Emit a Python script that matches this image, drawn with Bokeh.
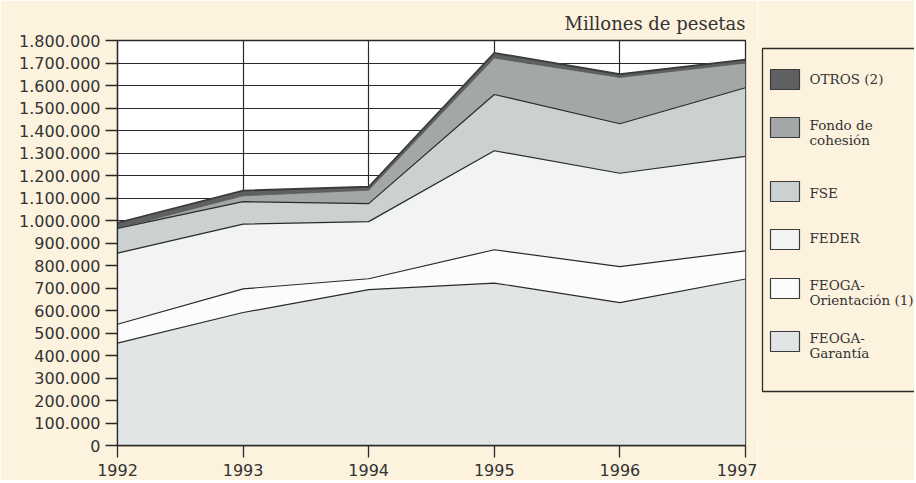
from bokeh.plotting import figure
from bokeh.layouts import row
from bokeh.models import Range1d, FixedTicker, ColumnDataSource
from bokeh.embed import file_html
from bokeh.resources import INLINE
from bokeh.core.properties import value

# ---------------- data ----------------
years = [1992, 1993, 1994, 1995, 1996, 1997]
feoga_garantia = [455000, 591000, 693000, 722000, 635000, 740000]
feoga_orientacion = [84000, 105000, 48000, 148000, 160000, 125000]
feder = [316000, 288000, 254000, 440000, 415000, 420000]
fse = [110000, 100000, 80000, 250000, 220000, 305000]
fondo_cohesion = [0, 26000, 60000, 162000, 206000, 110000]
otros = [25000, 23000, 15000, 23000, 14000, 15000]

series_keys = ["garantia", "orientacion", "feder", "fse", "fondo", "otros"]
series_labels = ["FEOGA-\nGarantía", "FEOGA-\nOrientación (1)", "FEDER", "FSE",
                 "Fondo de\ncohesión", "OTROS (2)"]
series_colors = ["#e1e5e6", "#fcfcfc", "#f2f3f3", "#cbd0d1", "#a3a7a8", "#5e6062"]

y_ticks = [0, 100000, 200000, 300000, 400000, 500000, 600000, 700000, 800000,
           900000, 1000000, 1100000, 1200000, 1300000, 1400000, 1500000,
           1600000, 1700000, 1800000]
y_tick_labels = ["0", "100.000", "200.000", "300.000", "400.000", "500.000",
                 "600.000", "700.000", "800.000", "900.000", "1.000.000",
                 "1.100.000", "1.200.000", "1.300.000", "1.400.000",
                 "1.500.000", "1.600.000", "1.700.000", "1.800.000"]
unit_title = "Millones de pesetas"

CREAM = "#fcf2de"
INK = "#2a2a2a"
TOP, BOTTOM_BORDER, H = 40, 35, 480

src = ColumnDataSource(dict(year=years, garantia=feoga_garantia,
                            orientacion=feoga_orientacion, feder=feder,
                            fse=fse, fondo=fondo_cohesion, otros=otros))

p = figure(width=757, height=H, x_range=Range1d(1992, 1997),
           y_range=Range1d(0, 1800000), output_backend="svg",
           toolbar_location=None, min_border_left=117, min_border_right=12,
           min_border_top=TOP, min_border_bottom=BOTTOM_BORDER,
           title=unit_title, title_location="above")
p.title.align = "right"
p.title.text_font = "DejaVu Serif"
p.title.text_font_size = "18px"
p.title.text_font_style = "normal"
p.title.text_color = "#333333"
p.title.standoff = 13
p.background_fill_color = "#ffffff"
p.border_fill_color = CREAM
p.outline_line_color = INK
p.outline_line_width = 1.3

p.varea_stack(stackers=series_keys, x="year", color=series_colors, source=src)

# boundary lines between bands
cum = [0] * len(years)
for key, vals in zip(series_keys, [feoga_garantia, feoga_orientacion, feder,
                                    fse, fondo_cohesion, otros]):
    cum = [c + v for c, v in zip(cum, vals)]
    if key == "otros":
        p.line(years, cum, line_color="#3a3b3c", line_width=1.8)
    elif key == "fondo":
        p.line(years, cum, line_color="#555", line_width=0.8)
    else:
        p.line(years, cum, line_color=INK, line_width=1.2)

# grid
p.xgrid.ticker = FixedTicker(ticks=years)
p.ygrid.ticker = FixedTicker(ticks=y_ticks)
p.grid.grid_line_color = INK
p.grid.grid_line_width = 1.2
p.grid.grid_line_alpha = 1.0

# axes
p.yaxis.ticker = FixedTicker(ticks=y_ticks)
p.yaxis.major_label_overrides = {t: l for t, l in zip(y_ticks, y_tick_labels)}
p.xaxis.ticker = FixedTicker(ticks=years)
for ax in (p.xaxis[0], p.yaxis[0]):
    ax.axis_line_color = INK
    ax.axis_line_width = 1.3
    ax.major_tick_line_color = INK
    ax.major_tick_line_width = 1.3
    ax.major_tick_in = 0
    ax.minor_tick_line_color = None
    ax.major_label_text_font = "DejaVu Sans"
    ax.major_label_text_font_size = "16px"
    ax.major_label_text_color = "#333333"
p.yaxis.major_tick_out = 12
p.yaxis.major_label_standoff = 5
p.xaxis.major_tick_out = 12
p.xaxis.major_label_standoff = 6

# ---------------- legend panel ----------------
# frame spans page y 40..445 (aligned with the chart frame); data units = pixels
lg = figure(width=157, height=H, x_range=Range1d(757, 914),
            y_range=Range1d(H - BOTTOM_BORDER, TOP), output_backend="svg",
            toolbar_location=None, min_border=0, min_border_top=TOP,
            min_border_bottom=BOTTOM_BORDER,
            x_axis_location=None, y_axis_location=None)
lg.grid.visible = False
lg.outline_line_color = None
lg.background_fill_color = CREAM
lg.border_fill_color = CREAM

lg.quad(left=762, right=925, top=48, bottom=391, fill_color=None,
        line_color=INK, line_width=1.3)

order = [5, 4, 3, 2, 1, 0]
sq_tops = [69, 117, 181, 229, 278, 331]
text_first = [78, 124, 192, 237, 284, 337]
for idx, top, ty in zip(order, sq_tops, text_first):
    lg.quad(left=770, right=799, top=top, bottom=top + 20,
            fill_color=series_colors[idx], line_color="#3a3a3a", line_width=1.2)
    for k, line in enumerate(series_labels[idx].split("\n")):
        lg.text(x=[809], y=[ty + 15 * k], text=[line],
                text_font=value("DejaVu Serif"), text_font_size="13.5px",
                text_baseline="middle", text_color="#333333")

layout = row(p, lg, spacing=0)
open("out.html", "w").write(file_html(layout, INLINE))
